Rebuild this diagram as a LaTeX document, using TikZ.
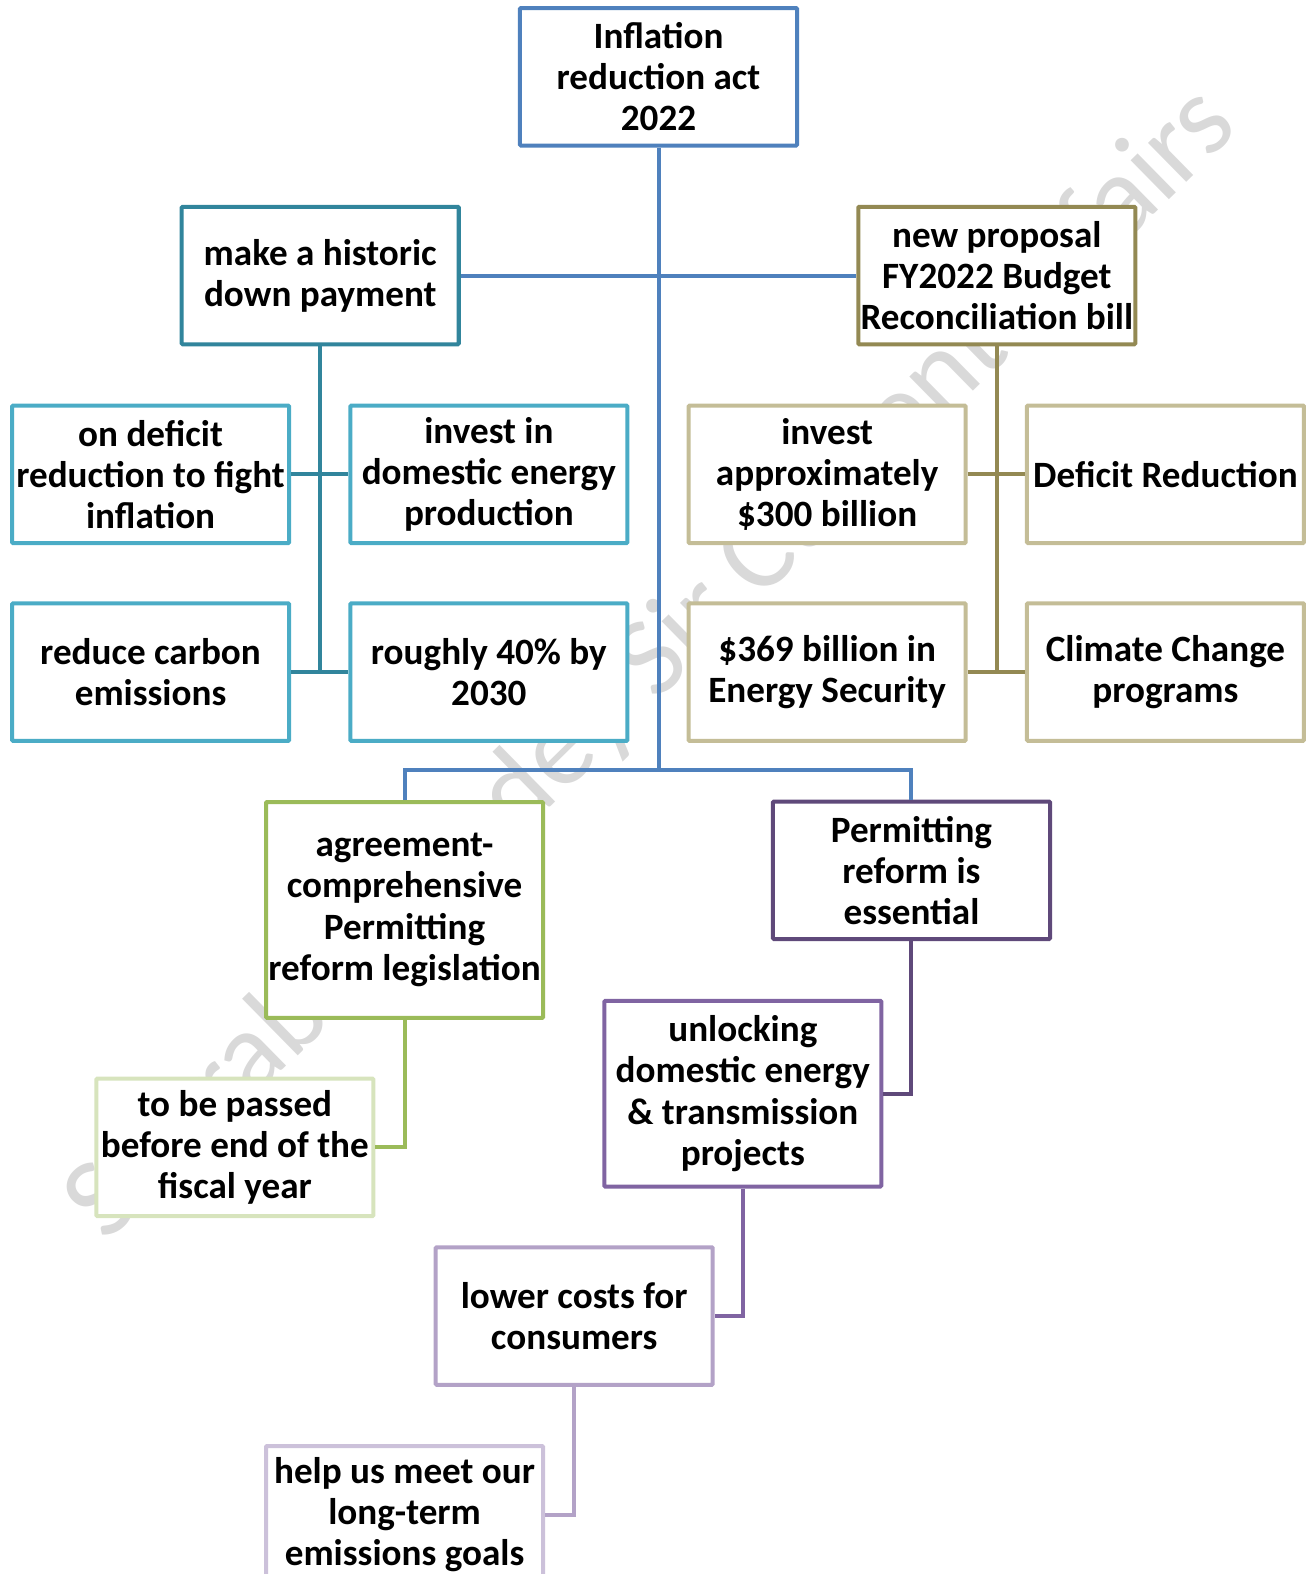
\documentclass[tikz,border=0pt]{standalone}
\usepackage{fontspec}
\setmainfont{Carlito}
\usepackage{xcolor}
\usetikzlibrary{positioning}
\definecolor{rootblue}{HTML}{4F81BD}
\definecolor{histteal}{HTML}{31859C}
\definecolor{leafteal}{HTML}{4BACC6}
\definecolor{propolive}{HTML}{938953}
\definecolor{leafolive}{HTML}{C4BD97}
\definecolor{agreegreen}{HTML}{9BBB59}
\definecolor{passgreen}{HTML}{D7E4BD}
\definecolor{permpurple}{HTML}{5F497A}
\definecolor{unlockpurple}{HTML}{8064A2}
\definecolor{lowerpurple}{HTML}{B3A2C7}
\definecolor{helppurple}{HTML}{CCC1DA}
\definecolor{markgray}{HTML}{D9D9D9}

\begin{document}
\begin{tikzpicture}[x=1pt, y=-1pt,
    box/.style={
      draw,
      line width=4pt,
      fill=white,
      rounded corners=1pt,
      minimum width=276pt,
      minimum height=137pt,
      inner sep=0pt,
      align=center,
      font=\fontsize{37}{41}\selectfont\bfseries
    },
    link/.style={line width=4pt},
    watermark/.style={text=markgray, font=\fontsize{114}{120}\selectfont, inner sep=0pt}
  ]
    \useasboundingbox (0,0) rectangle (1303,1568);
    \clip (0,0) rectangle (1303,1568);

    \node[watermark, rotate=44.5] (mark) at (650,662) {Saurabh Pandey Sir Current Affairs};

    \node[box, draw=rootblue] (act) at (656,76.5) {Inflation\\reduction act\\2022};
    \node[box, draw=histteal] (hist) at (319,274.5) {make a historic\\down payment};
    \node[box, draw=propolive] (prop) at (993,274.5)
      {new proposal\\FY2022 Budget\\Reconciliation bill};

    % teal branch
    \node[box, draw=leafteal] (deficit) at (150,472.5)
      {on deficit\\reduction to fight\\inflation};
    \node[box, draw=leafteal, right=57pt of deficit]
      (domestic) {invest in\\domestic energy\\production};
    \node[box, draw=leafteal, below=56pt of deficit]
      (carbon) {reduce carbon\\emissions};
    \node[box, draw=leafteal, right=57pt of carbon]
      (roughly) {roughly 40\% by\\2030};

    % olive branch
    \node[box, draw=leafolive, right=57pt of domestic]
      (invest) {invest\\approximately\\\$300 billion};
    \node[box, draw=leafolive, right=57pt of invest]
      (defred) {Deficit Reduction};
    \node[box, draw=leafolive, below=56pt of invest]
      (security) {\$369 billion in\\Energy Security};
    \node[box, draw=leafolive, right=57pt of security]
      (climate) {Climate Change\\programs};

    % lower part
    \node[box, draw=agreegreen, minimum height=215pt] (agree) at (403,906.5)
      {agreement-\\comprehensive\\Permitting\\reform legislation};
    \node[box, draw=passgreen] (pass) at (234,1143)
      {to be passed\\before end of the\\fiscal year};
    \node[box, draw=permpurple] (perm) at (908,867)
      {Permitting\\reform is\\essential};
    \node[box, draw=unlockpurple, minimum height=185pt] (unlock) at (740,1089.5)
      {unlocking\\domestic energy\\\& transmission\\projects};
    \node[box, draw=lowerpurple] (lower) at (572,1311)
      {lower costs for\\consumers};
    \node[box, draw=helppurple] (help) at (403,1509)
      {help us meet our\\long-term\\emissions goals};

    \coordinate (fork) at (656,767);
    \draw[link, draw=rootblue] (act.south) -- (fork);
    \draw[link, draw=rootblue] (hist.east) -- (prop.west);
    \draw[link, draw=rootblue] (agree.north) |- (fork) -| (perm.north);

    \draw[link, draw=histteal] (hist.south) -- (hist.south |- carbon.east);
    \draw[link, draw=histteal] (deficit.east) -- (domestic.west);
    \draw[link, draw=histteal] (carbon.east) -- (roughly.west);

    \draw[link, draw=propolive] (prop.south) -- (prop.south |- security.east);
    \draw[link, draw=propolive] (invest.east) -- (defred.west);
    \draw[link, draw=propolive] (security.east) -- (climate.west);

    \draw[link, draw=agreegreen] (agree.south) |- (pass.east);
    \draw[link, draw=permpurple] (perm.south) |- (unlock.east);
    \draw[link, draw=unlockpurple] (unlock.south) |- (lower.east);
    \draw[link, draw=lowerpurple] (lower.south) |- (help.east);
  \end{tikzpicture}
\end{document}
